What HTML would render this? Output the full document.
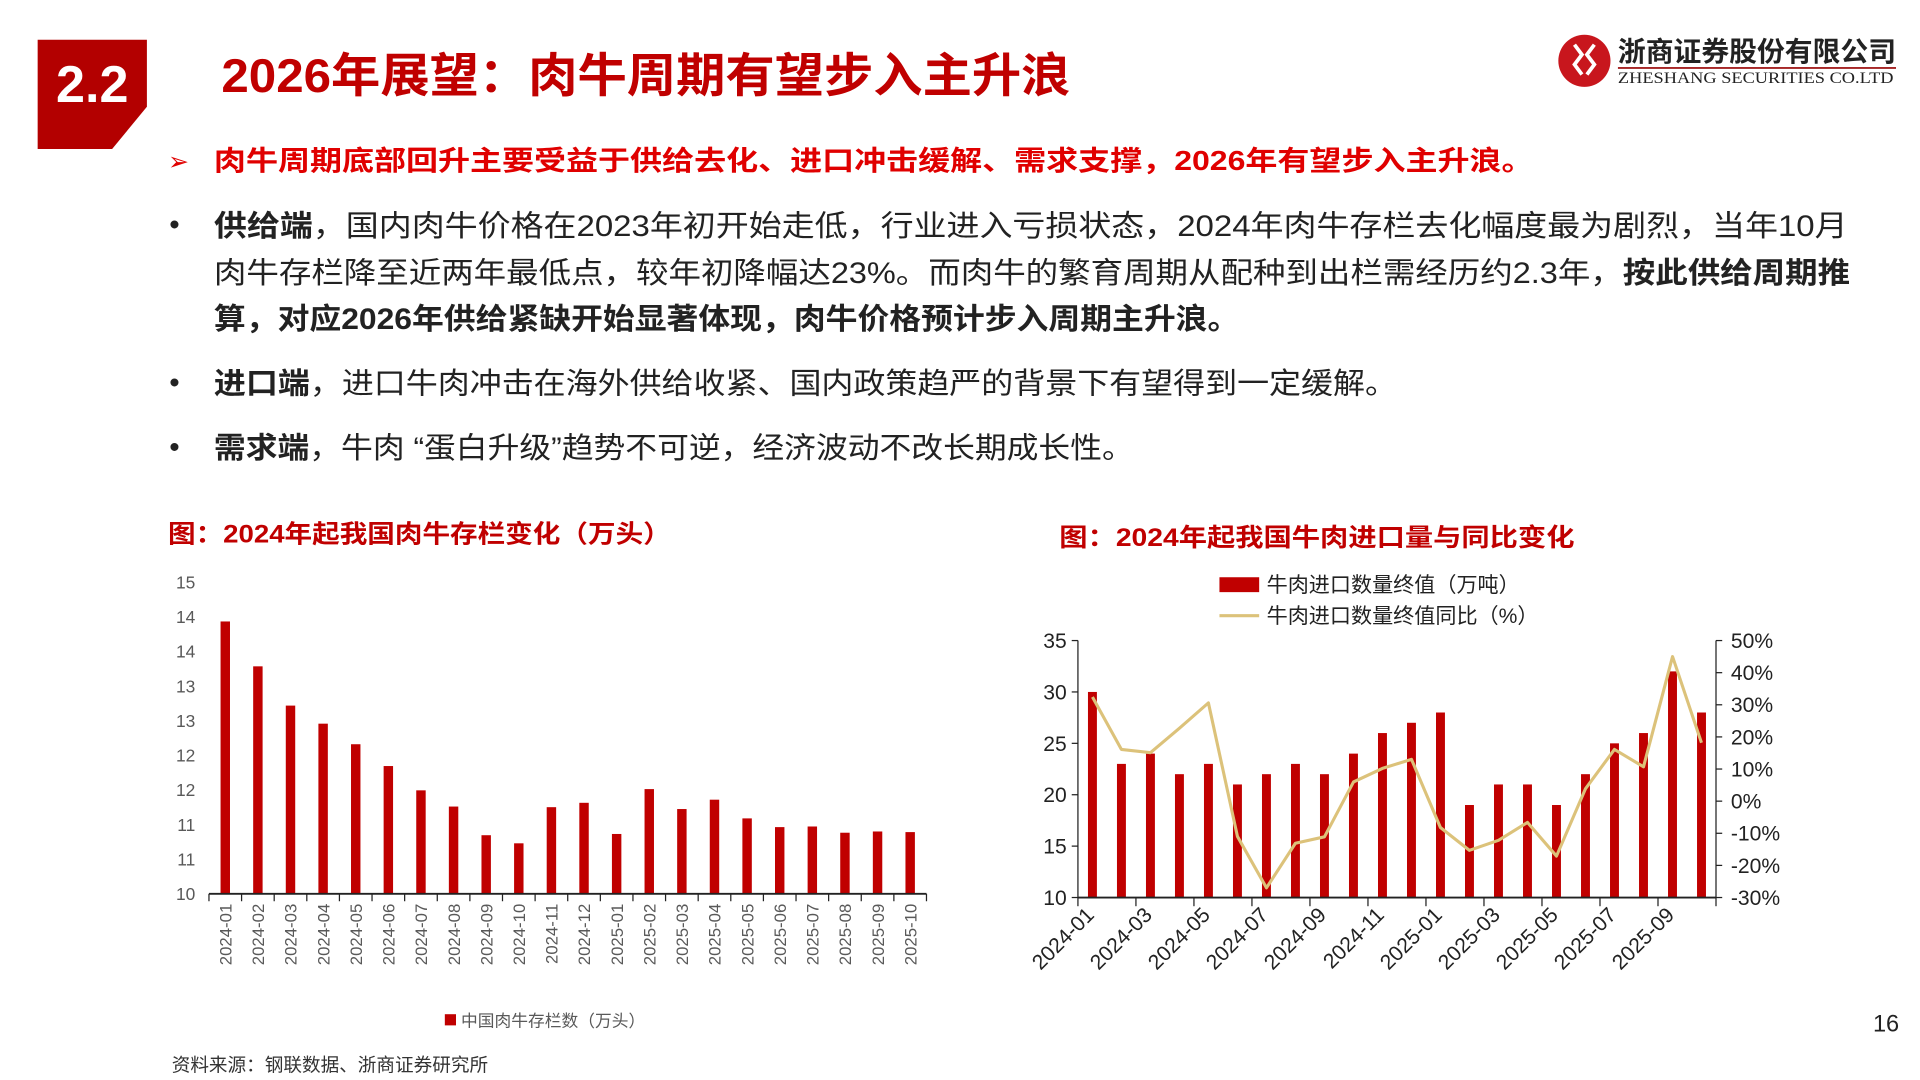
<!DOCTYPE html>
<html><head><meta charset="utf-8">
<style>
html,body{margin:0;padding:0;background:#fff;width:1920px;height:1080px;overflow:hidden}
svg{display:block}
text{font-family:"Liberation Sans","Noto Sans CJK SC",sans-serif}
text.serif{font-family:"Liberation Serif",serif}
</style></head>
<body>
<svg id="page" width="1920" height="1080" viewBox="0 0 1546 870" xmlns="http://www.w3.org/2000/svg">
  <g>
    <path d="M30 32 H118 V86 L90 120 H30 Z" fill="#b30000"/>
    <text x="74" y="82" text-anchor="middle" font-size="42" font-weight="bold" fill="#fff">2.2</text>
  </g>
  <text x="178" y="74" font-size="38" font-weight="bold" fill="#c00000" textLength="684" lengthAdjust="spacingAndGlyphs">2026年展望：肉牛周期有望步入主升浪</text>
  <g>
    <circle cx="1276" cy="49" r="21" fill="#c8161d"/>
    <path d="M1268 36 l6 8 l-6 8 l6 8 M1284 36 l-6 8 l6 8 l-6 8" stroke="#fff" stroke-width="3" fill="none"/>
    <text x="1303" y="49" font-size="22" font-weight="bold" fill="#222" textLength="224" lengthAdjust="spacingAndGlyphs">浙商证券股份有限公司</text>
    <rect x="1303" y="54" width="224" height="1.5" fill="#a32020"/>
    <text class="serif" x="1303" y="67" font-size="13" fill="#222" textLength="222" lengthAdjust="spacingAndGlyphs">ZHESHANG SECURITIES CO.LTD</text>
  </g>
  <text x="135" y="137" font-size="20" fill="#e00000">➢</text>
  <text x="172" y="137" font-size="22" font-weight="bold" fill="#e00000" textLength="1063" lengthAdjust="spacingAndGlyphs">肉牛周期底部回升主要受益于供给去化、进口冲击缓解、需求支撑，2026年有望步入主升浪。</text>
  <g font-size="24" fill="#222">
    <text x="136" y="189">•</text>
    <text x="172" y="190" textLength="1316" lengthAdjust="spacingAndGlyphs"><tspan font-weight="bold">供给端</tspan>，国内肉牛价格在2023年初开始走低，行业进入亏损状态，2024年肉牛存栏去化幅度最为剧烈，当年10月</text>
    <text x="172" y="228" textLength="1318" lengthAdjust="spacingAndGlyphs">肉牛存栏降至近两年最低点，较年初降幅达23%。而肉牛的繁育周期从配种到出栏需经历约2.3年，<tspan font-weight="bold">按此供给周期推</tspan></text>
    <text x="172" y="265" font-weight="bold" textLength="826" lengthAdjust="spacingAndGlyphs">算，对应2026年供给紧缺开始显著体现，肉牛价格预计步入周期主升浪。</text>
  </g>
  <g font-size="24" fill="#222">
    <text x="136" y="316">•</text>
    <text x="172" y="317" textLength="953" lengthAdjust="spacingAndGlyphs"><tspan font-weight="bold">进口端</tspan>，进口牛肉冲击在海外供给收紧、国内政策趋严的背景下有望得到一定缓解。</text>
  </g>
  <g font-size="24" fill="#222">
    <text x="136" y="368">•</text>
    <text x="172" y="369" textLength="741" lengthAdjust="spacingAndGlyphs"><tspan font-weight="bold">需求端</tspan>，牛肉 “蛋白升级”趋势不可逆，经济波动不改长期成长性。</text>
  </g>
  <text x="135" y="437" font-size="20" font-weight="bold" fill="#c00000" textLength="405" lengthAdjust="spacingAndGlyphs">图：2024年起我国肉牛存栏变化（万头）</text>
  <text x="853" y="440" font-size="20" font-weight="bold" fill="#c00000" textLength="415" lengthAdjust="spacingAndGlyphs">图：2024年起我国牛肉进口量与同比变化</text>
  <g id="chart1"></g>
  <g id="chart2"></g>
  <text x="138" y="863" font-size="15" fill="#333">资料来源：钢联数据、浙商证券研究所</text>
  <text x="1519" y="831" font-size="19" fill="#222" text-anchor="middle">16</text>
</svg>
<script>
const NS='http://www.w3.org/2000/svg';
// chart 1 data
const c1Categories=['2024-01','2024-02','2024-03','2024-04','2024-05','2024-06','2024-07','2024-08','2024-09','2024-10','2024-11','2024-12','2025-01','2025-02','2025-03','2025-04','2025-05','2025-06','2025-07','2025-08','2025-09','2025-10'];
const c1Values=[14.37,13.65,13.02,12.73,12.40,12.05,11.66,11.40,10.94,10.81,11.39,11.46,10.96,11.68,11.36,11.51,11.21,11.07,11.08,10.98,11.00,10.99];
const c1Ticks=[10,10.556,11.111,11.667,12.222,12.778,13.333,13.889,14.444,15];
// chart 2 data
const c2Categories=['2024-01','2024-02','2024-03','2024-04','2024-05','2024-06','2024-07','2024-08','2024-09','2024-10','2024-11','2024-12','2025-01','2025-02','2025-03','2025-04','2025-05','2025-06','2025-07','2025-08','2025-09','2025-10'];
const c2Volume=[30,23,24,22,23,21,22,23,22,24,26,27,28,19,21,21,19,22,25,26,32,28];
const c2Yoy=[32.4,16.1,15.1,22.7,30.6,-11,-27,-13.1,-11.1,6.0,10.2,13.0,-8.2,-15.3,-12.2,-6.6,-17.1,3.9,16.1,10.7,45,18.2];
const c2LeftTicks=[10,15,20,25,30,35];
const c2RightTicks=[-30,-20,-10,0,10,20,30,40,50];

function mk(tag,attrs,parent,txt){const e=document.createElementNS(NS,tag);for(const k in attrs)e.setAttribute(k,attrs[k]);if(txt!=null)e.textContent=txt;parent.appendChild(e);return e;}

// ---- chart 1 ----
(function(){
  const g=document.getElementById('chart1');
  const x0=168,x1=746,yb=720,yt=469,vmin=10,vmax=15;
  const n=c1Categories.length,cw=(x1-x0)/n;
  const y=v=>yb-(v-vmin)/(vmax-vmin)*(yb-yt);
  c1Ticks.forEach(t=>{
    const e=mk('text',{x:157,y:y(t)+5,'text-anchor':'end','font-size':14,fill:'#595959'},g,Math.round(t).toString());
    
    
  });
  c1Values.forEach((v,i)=>{
    const cx=x0+cw*(i+0.5);
    const r=mk('rect',{x:cx-3.8,y:y(v),width:7.6,height:yb-y(v),fill:'#c00000'},g);
    
    
    const l=mk('text',{transform:`translate(${cx+5},728) rotate(-90)`,'text-anchor':'end','font-size':13.5,fill:'#595959'},g,c1Categories[i]);
    
    
  });
  for(let i=0;i<=n;i++){mk('line',{x1:x0+cw*i,x2:x0+cw*i,y1:yb,y2:yb+6,stroke:'#222','stroke-width':1},g);}
  const ax=mk('line',{x1:x0,x2:x1,y1:yb,y2:yb,stroke:'#222','stroke-width':1.5},g);
  
  
  const lg=mk('g',{},g);
  
  
  mk('rect',{x:358,y:817,width:9,height:9,fill:'#c00000'},lg);
  mk('text',{x:371,y:827,'font-size':13.5,fill:'#595959'},lg,'中国肉牛存栏数（万头）');
})();

// ---- chart 2 ----
(function(){
  const g=document.getElementById('chart2');
  const x0=868,x1=1382,yb=723,yt=516;
  const n=c2Categories.length,cw=(x1-x0)/n;
  const yl=v=>yb-(v-10)/(35-10)*(yb-yt);
  const yr=v=>yb-(v+30)/(50+30)*(yb-yt);
  c2LeftTicks.forEach(t=>{
    mk('line',{x1:x0-5,x2:x0,y1:yl(t),y2:yl(t),stroke:'#222'},g);
    const e=mk('text',{x:x0-9,y:yl(t)+6,'text-anchor':'end','font-size':17,fill:'#222'},g,String(t));
    
    
  });
  c2RightTicks.forEach(t=>{
    mk('line',{x1:x1,x2:x1+5,y1:yr(t),y2:yr(t),stroke:'#222'},g);
    const e=mk('text',{x:x1+12,y:yr(t)+6,'font-size':17,fill:'#222'},g,t+'%');
    
    
  });
  c2Volume.forEach((v,i)=>{
    const cx=x0+cw*(i+0.5);
    const r=mk('rect',{x:cx-3.6,y:yl(v),width:7.2,height:yb-yl(v),fill:'#c00000'},g);
    
    
  });
  for(let i=0;i<=n;i+=2){mk('line',{x1:x0+cw*i,x2:x0+cw*i,y1:yb,y2:yb+7,stroke:'#222'},g);}
  c2Categories.forEach((c,i)=>{
    if(i%2)return;
    const tx=x0+cw*i+14;
    const l=mk('text',{transform:`translate(${tx},738) rotate(-45)`,'text-anchor':'end','font-size':17,fill:'#222'},g,c);
    
    
  });
  const ax=mk('line',{x1:x0,x2:x1,y1:yb,y2:yb,stroke:'#222','stroke-width':1.5},g);
  
  
  const la=mk('line',{x1:x0,x2:x0,y1:yt,y2:yb,stroke:'#222','stroke-width':1},g);
  
  
  const ra=mk('line',{x1:x1,x2:x1,y1:yt,y2:yb,stroke:'#222','stroke-width':1},g);
  
  
  const pts=c2Yoy.map((v,i)=>(x0+cw*(i+0.5)).toFixed(1)+','+yr(v).toFixed(1)).join(' ');
  const pl=mk('polyline',{points:pts,fill:'none',stroke:'#dcc27a','stroke-width':2.5,'stroke-linejoin':'round'},g);
  
  
  const l1=mk('g',{},g);
  
  
  mk('rect',{x:982,y:465,width:32,height:12,fill:'#c00000'},l1);
  mk('text',{x:1020,y:477,'font-size':17,fill:'#222'},l1,'牛肉进口数量终值（万吨）');
  const l2=mk('g',{},g);
  
  
  mk('line',{x1:982,x2:1014,y1:496,y2:496,stroke:'#dcc27a','stroke-width':2.5},l2);
  mk('text',{x:1020,y:502,'font-size':17,fill:'#222'},l2,'牛肉进口数量终值同比（%）');
})();
</script>
</body></html>
